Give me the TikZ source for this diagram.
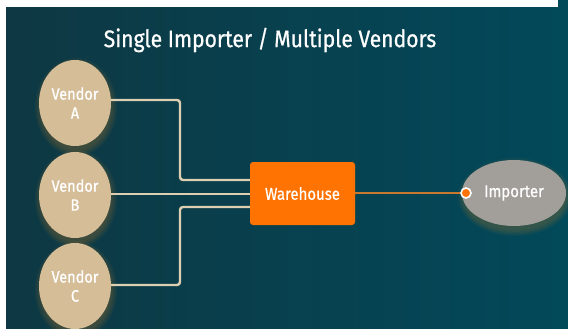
\documentclass[tikz,border=0pt]{standalone}
\usepackage{fontspec}
\setmainfont{Fira Sans}[FakeBold=0.7, FakeStretch=0.88]
\usetikzlibrary{shapes.geometric}
\definecolor{bgdark}{HTML}{0E3843}
\definecolor{bglight}{HTML}{02495A}
\definecolor{vendortan}{HTML}{D5BD98}
\definecolor{linkcream}{HTML}{DCCFB2}
\definecolor{whorange}{HTML}{FF7303}
\definecolor{linkorange}{HTML}{C9792E}
\definecolor{impgray}{HTML}{A29E9A}
\definecolor{glow}{HTML}{C8822A}
\tikzset{
  vendor/.style={ellipse, fill=vendortan, minimum width=72pt, minimum height=86pt,
    inner sep=0pt, text=white, font=\fontsize{16.5}{19}\selectfont, align=center},
  warehouse/.style={rectangle, rounded corners=3pt, fill=whorange, minimum width=105pt,
    minimum height=63pt, text=white, font=\fontsize{17}{19}\selectfont},
  importer/.style={ellipse, fill=impgray, minimum width=104pt, minimum height=66pt,
    inner sep=0pt, text=white, font=\fontsize{17}{19}\selectfont},
  feed/.style={draw=linkcream, line width=2.4pt, rounded corners=3pt},
  ship/.style={draw=linkorange, line width=1.6pt},
  endpoint/.style={circle, fill=whorange, draw=white, line width=1.6pt,
    minimum size=10pt, inner sep=0pt},
}
\newcommand{\softglow}[4]{% x, y, rx, ry
  \foreach \k in {1,...,5}{
    \fill[glow, opacity=0.06] (#1+1,#2+4) ellipse ({#3+\k*1.4-2} and {#4+\k*1.4-1});
  }}
\begin{document}
\begin{tikzpicture}[x=1pt, y=-1pt]
  \useasboundingbox (0,0) rectangle (568,329);
  % page and panel
  \fill[white] (0,0) rectangle (568,329);
  \shade[left color=bgdark, right color=bglight] (6,8) rectangle (568,329);
  \fill[bglight] (558,0) rectangle (568,8);

  % title
  \node[text=white, font=\fontsize{24}{28}\selectfont] (title) at (270,40)
    {Single Importer / Multiple Vendors};

  % glows under the round nodes
  \softglow{75}{103}{36}{43}
  \softglow{75}{195}{36}{43}
  \softglow{75}{286}{36}{43}
  \softglow{514}{193}{52}{33}

  % nodes
  \node[vendor] (va) at (75,103) {Vendor\\A};
  \node[vendor] (vb) at (75,195) {Vendor\\B};
  \node[vendor] (vc) at (75,286) {Vendor\\C};
  \node[warehouse] (wh) at (302.5,193.5) {Warehouse};
  \node[importer] (imp) at (514,193) {Importer};

  % feeds into the warehouse
  \draw[feed] (va.east |- 0,100) -| (180,180) -- (wh.west |- 0,180);
  \draw[feed] (vb.east |- 0,194) -- (wh.west |- 0,194);
  \draw[feed] (vc.east |- 0,285) -| (180,207) -- (wh.west |- 0,207);

  % delivery to the importer
  \node[endpoint] (dot) at (466,193) {};
  \draw[ship] (wh.east |- 0,193) -- (dot.west);
\end{tikzpicture}
\end{document}
